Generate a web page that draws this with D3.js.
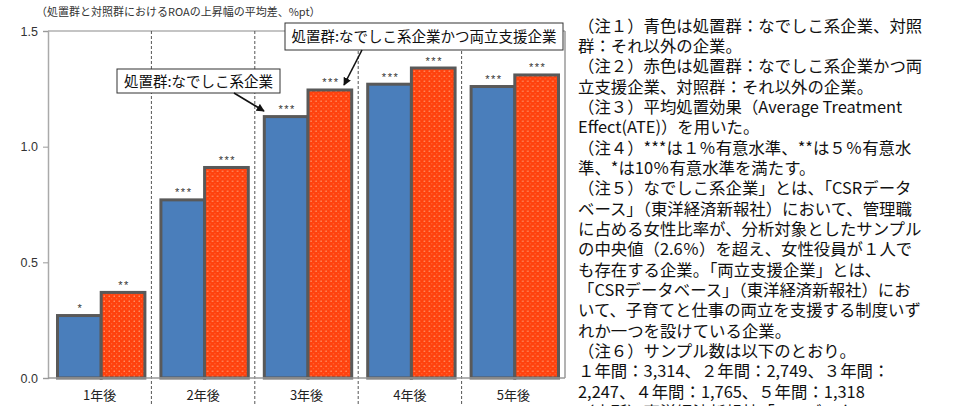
<!DOCTYPE html>
<html><head><meta charset="utf-8">
<script src="https://cdn.jsdelivr.net/npm/d3@7"></script>
<style>
html,body{margin:0;padding:0;background:#fff;}
svg{display:block;}
</style></head>
<body>
<svg id="c" width="953" height="406"></svg>
<script>
const categories = ["1年後","2年後","3年後","4年後","5年後"];
const seriesNames = ["なでしこ系企業","なでしこ系企業かつ両立支援企業"];
const blueValues = [0.27, 0.77, 1.13, 1.27, 1.26];
const redValues  = [0.37, 0.91, 1.245, 1.34, 1.31];
const blueStars = ["*","***","***","***","***"];
const redStars  = ["**","***","***","***","***"];
const yTicks = [0.0, 0.5, 1.0, 1.5];
const title = "（処置群と対照群におけるROAの上昇幅の平均差、%pt）";
const callout1 = "処置群:なでしこ系企業";
const callout2 = "処置群:なでしこ系企業かつ両立支援企業";
const notes = [
"（注１）青色は処置群：なでしこ系企業、対照",
"群：それ以外の企業。",
"（注２）赤色は処置群：なでしこ系企業かつ両",
"立支援企業、対照群：それ以外の企業。",
"（注３）平均処置効果（Average Treatment",
"Effect(ATE)）を用いた。",
"（注４）***は１％有意水準、**は５％有意水",
"準、*は10％有意水準を満たす。",
"（注５）なでしこ系企業」とは、「CSRデータ",
"ベース」（東洋経済新報社）において、管理職",
"に占める女性比率が、分析対象としたサンプル",
"の中央値（2.6％）を超え、女性役員が１人で",
"も存在する企業。「両立支援企業」とは、",
"「CSRデータベース」（東洋経済新報社）にお",
"いて、子育てと仕事の両立を支援する制度いず",
"れか一つを設けている企業。",
"（注６）サンプル数は以下のとおり。",
"１年間：3,314、２年間：2,749、３年間：",
"2,247、４年間：1,765、５年間：1,318",
"（出所）東洋経済新報社「CSRデータベース」"
];

(function(){
const svg = d3.select("#c");
const pL = 48, pR = 565, pT = 31, pB = 378;
const jp = "'Noto Sans CJK JP', sans-serif";
const num = "'Liberation Sans', Arial, sans-serif";

const x0 = d3.scaleBand().domain(categories).range([pL, pR]).paddingInner(0).paddingOuter(0);
const bw = x0.bandwidth();
const x1 = d3.scaleBand().domain([0,1]).range([9.5, bw - 6.5]).padding(0);
const y = d3.scaleLinear().domain([0, 1.5]).range([pB, pT]);

const defs = svg.append("defs");
const pat = defs.append("pattern").attr("id","dots").attr("patternUnits","userSpaceOnUse")
  .attr("width",5).attr("height",5);
pat.append("rect").attr("width",5).attr("height",5).attr("fill","#ff420e");
pat.append("circle").attr("cx",1.2).attr("cy",1.2).attr("r",0.65).attr("fill","#ffc09a");
pat.append("circle").attr("cx",3.7).attr("cy",3.7).attr("r",0.5).attr("fill","#ff8a5a");

defs.append("marker").attr("id","ah").attr("viewBox","0 0 10 10").attr("refX",9).attr("refY",5)
  .attr("markerWidth",5).attr("markerHeight",5).attr("orient","auto").attr("markerUnits","strokeWidth")
  .append("path").attr("d","M0,0 L10,5 L0,10 z").attr("fill","#111");

svg.append("text").attr("x",36).attr("y",15.5).attr("font-family",jp).attr("font-size",11)
  .attr("fill","#333").text(title);

svg.append("line").attr("x1",pL).attr("x2",pR).attr("y1",pT).attr("y2",pT)
  .attr("stroke","#8a8a8a").attr("stroke-width",1.2);
svg.append("line").attr("x1",pR).attr("x2",pR).attr("y1",pT).attr("y2",pB)
  .attr("stroke","#9a9a9a").attr("stroke-width",1.5);

svg.append("g").selectAll("line").data(categories.slice(1)).join("line")
  .attr("x1",d=>x0(d)).attr("x2",d=>x0(d)).attr("y1",pT).attr("y2",406)
  .attr("stroke","#555").attr("stroke-width",1).attr("stroke-dasharray","3,2");

const yAxis = d3.axisLeft(y).tickValues(yTicks).tickFormat(d3.format(".1f")).tickSize(5).tickPadding(5);
const ga = svg.append("g").attr("transform",`translate(${pL},0)`).call(yAxis);
ga.select(".domain").attr("stroke","#aaa").attr("stroke-width",1.5);
ga.selectAll(".tick line").attr("stroke","#999");
ga.selectAll(".tick text").attr("font-family",num).attr("font-size",12.5).attr("fill","#333");

const data = categories.map((c,i)=>({c, vals:[blueValues[i], redValues[i]], stars:[blueStars[i], redStars[i]]}));
const groups = svg.append("g").selectAll("g").data(data).join("g")
  .attr("transform",d=>`translate(${x0(d.c)},0)`);
groups.selectAll("rect").data(d=>d.vals.map((v,k)=>({v,k}))).join("rect")
  .attr("x",d=>x1(d.k)).attr("width",x1.bandwidth())
  .attr("y",d=>y(d.v)).attr("height",d=>y(0)-y(d.v))
  .attr("fill",d=>d.k===0?"#4a7ebb":"url(#dots)")
  .attr("stroke","#595959").attr("stroke-width",3);
groups.selectAll("text.star").data(d=>d.vals.map((v,k)=>({v,k,s:d.stars[k]}))).join("text")
  .attr("class","star")
  .attr("x",d=>x1(d.k)+x1.bandwidth()/2 + 1).attr("y",d=>y(d.v)-3.5)
  .attr("text-anchor","middle").attr("font-family",num).attr("font-size",11)
  .attr("fill","#333").attr("letter-spacing",1.5).text(d=>d.s);

svg.append("line").attr("x1",pL).attr("x2",pR).attr("y1",pB).attr("y2",pB)
  .attr("stroke","#999").attr("stroke-width",1.5);
svg.append("g").selectAll("text").data(categories).join("text")
  .attr("x",d=>x0(d)+bw/2).attr("y",400).attr("text-anchor","middle")
  .attr("font-family",jp).attr("font-size",13).attr("fill","#222").text(d=>d);

function arrow(ax,ay,bx,by){
  svg.append("line").attr("x1",ax).attr("y1",ay).attr("x2",bx).attr("y2",by)
    .attr("stroke","#111").attr("stroke-width",1.6).attr("marker-end","url(#ah)");
}
svg.append("rect").attr("x",117).attr("y",69).attr("width",163).attr("height",24)
  .attr("fill","#fff").attr("stroke","#333").attr("stroke-width",1);
svg.append("text").attr("x",198.5).attr("y",86.5).attr("text-anchor","middle")
  .attr("font-family",jp).attr("font-size",14.5).attr("fill","#111").text(callout1);
arrow(234,93,264,111);

svg.append("rect").attr("x",285).attr("y",23).attr("width",278).attr("height",27)
  .attr("fill","#fff").attr("stroke","#333").attr("stroke-width",1);
svg.append("text").attr("x",424).attr("y",42).attr("text-anchor","middle")
  .attr("font-family",jp).attr("font-size",14.5).attr("fill","#111").text(callout2);
arrow(362,50,344,85);

svg.append("g").selectAll("text").data(notes).join("text")
  .attr("x",578).attr("y",(d,i)=>31.5 + i*20.35)
  .attr("font-family",jp).attr("font-size",16.4).attr("fill","#111").text(d=>d);
})();
</script>
</body></html>
